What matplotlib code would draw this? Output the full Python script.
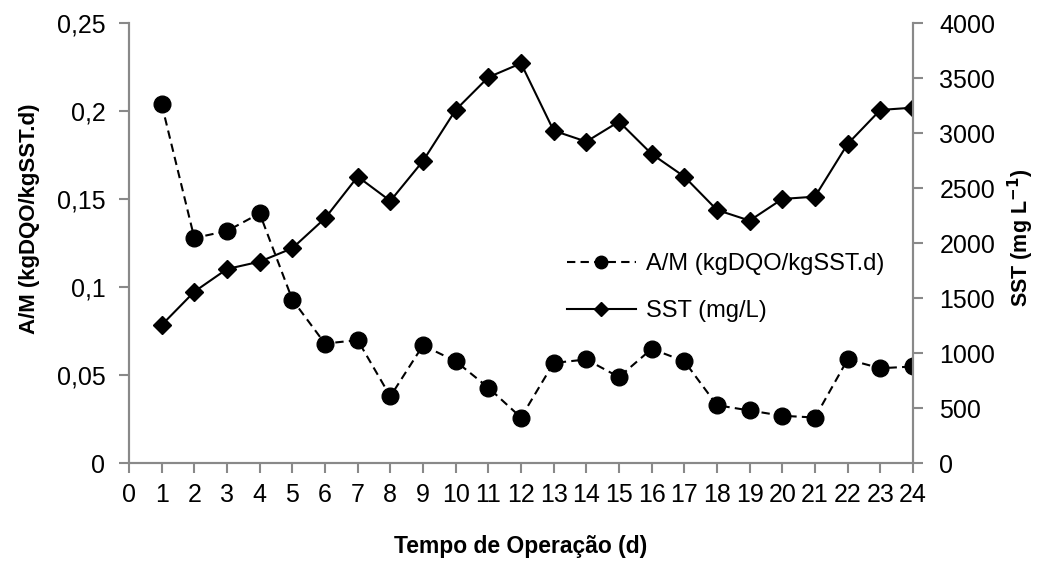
import matplotlib.pyplot as plt
from matplotlib.ticker import FuncFormatter

plt.rcParams['font.family'] = ['Liberation Sans', 'DejaVu Sans']

dias = list(range(1, 25))
am = [0.204, 0.128, 0.132, 0.142, 0.093, 0.068, 0.070, 0.038, 0.067, 0.058, 0.043, 0.026,
      0.057, 0.059, 0.049, 0.065, 0.058, 0.033, 0.030, 0.027, 0.026, 0.059, 0.054, 0.055]
sst = [1257, 1560, 1766, 1833, 1955, 2227, 2606, 2385, 2748, 3212, 3509, 3636,
       3024, 2924, 3106, 2812, 2606, 2303, 2206, 2403, 2424, 2903, 3212, 3233]

fig = plt.figure(figsize=(10.37, 5.65), dpi=100)
ax1 = fig.add_axes([0.1244, 0.18, 0.756, 0.7788])
ax2 = ax1.twinx()

l1, = ax1.plot(dias, am, color="black", ls=(0, (4, 2.5)), lw=1.5, marker="o", ms=12,
               label="A/M (kgDQO/kgSST.d)")
l2, = ax2.plot(dias, sst, color="black", ls="-", lw=1.5, marker="D", ms=9.5,
               label="SST (mg/L)")

ax1.set_xlim(0, 24)
ax1.set_ylim(0, 0.25)
ax2.set_ylim(0, 4000)
ax1.set_xticks(range(0, 25))
ax1.set_yticks([0, 0.05, 0.1, 0.15, 0.2, 0.25])
ax2.set_yticks(range(0, 4001, 500))
ax1.yaxis.set_major_formatter(FuncFormatter(lambda v, p: ("%g" % round(v, 2)).replace(".", ",")))

for ax in (ax1, ax2):
    for s in ax.spines.values():
        s.set_color("#898989")
        s.set_linewidth(1.5)
    ax.spines["top"].set_visible(False)
    ax.tick_params(axis="both", direction="out", length=7, width=1.5, color="#898989",
                   labelsize=18, pad=10)
ax1.tick_params(axis="x", pad=7)
ax2.tick_params(axis="y", pad=12)

ax1.set_xlabel("Tempo de Operação (d)", fontsize=16.5, fontweight="bold", labelpad=20)
ax1.set_ylabel("A/M (kgDQO/kgSST.d)", fontsize=16, fontweight="bold")
ax2.set_ylabel("SST (mg L$^{\\mathbf{-1}}$)", fontsize=15.5, fontweight="bold")
ax1.yaxis.set_label_coords(-0.114, 0.555)
ax2.yaxis.set_label_coords(1.118, 0.513)

ax2.legend(handles=[l1, l2], loc="center left", bbox_to_anchor=(0.5265, 0.4905),
           bbox_transform=fig.transFigure, frameon=False, fontsize=17,
           handlelength=2.9, labelspacing=1.07, handletextpad=0.42, markerscale=0.75)

fig.savefig("out.png", dpi=100)
